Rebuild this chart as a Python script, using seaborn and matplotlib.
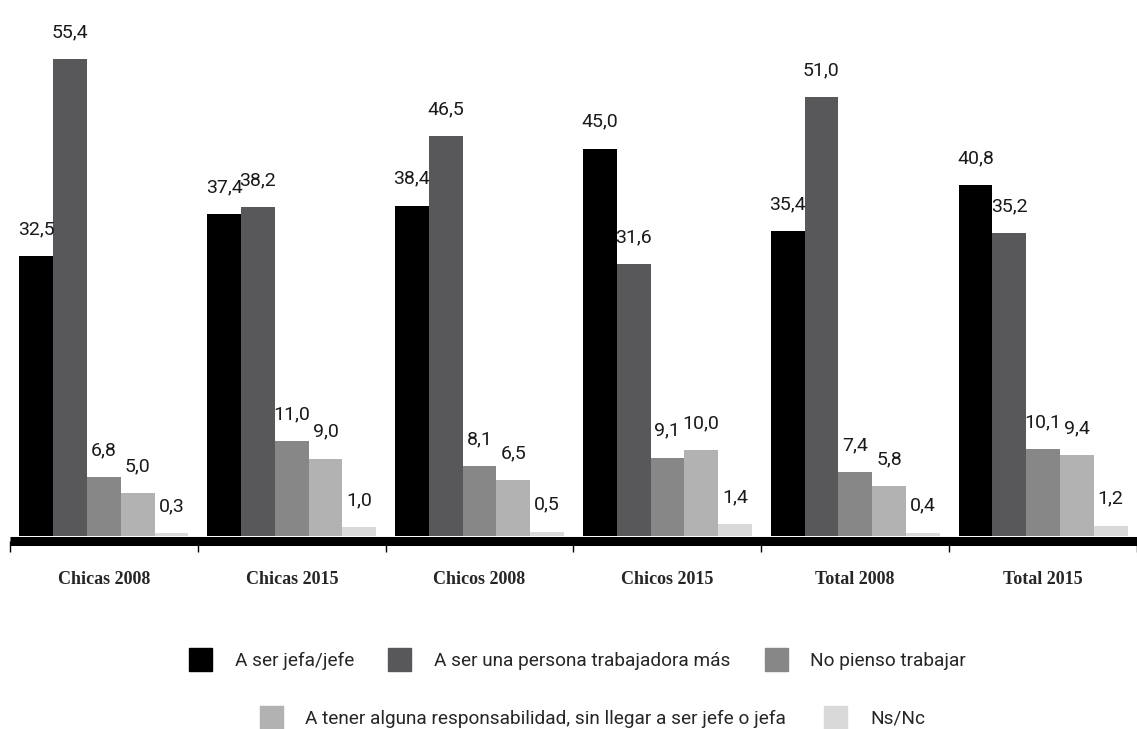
import pandas as pd
import matplotlib.pyplot as plt
import matplotlib.patches as mpatches
import seaborn as sns

# datos del grafico
grupos = ['Chicas 2008', 'Chicas 2015', 'Chicos 2008', 'Chicos 2015', 'Total 2008', 'Total 2015']
respuestas = ['A ser jefa/jefe',
              'A ser una persona trabajadora más',
              'No pienso trabajar',
              'A tener alguna responsabilidad, sin llegar a ser jefe o jefa',
              'Ns/Nc']
jefe = [32.5, 37.4, 38.4, 45.0, 35.4, 40.8]
trabajadora = [55.4, 38.2, 46.5, 31.6, 51.0, 35.2]
no_trabajar = [6.8, 11.0, 8.1, 9.1, 7.4, 10.1]
responsabilidad = [5.0, 9.0, 6.5, 10.0, 5.8, 9.4]
nsnc = [0.3, 1.0, 0.5, 1.4, 0.4, 1.2]

colores = ['#000000', '#58585a', '#878787', '#b2b2b2', '#d9d9d9']

series = [jefe, trabajadora, no_trabajar, responsabilidad, nsnc]
filas = []
for resp, vals in zip(respuestas, series):
    for g, v in zip(grupos, vals):
        filas.append({'grupo': g, 'respuesta': resp, 'valor': v})
dados = pd.DataFrame(filas)

sns.set_style('white')
plt.rcParams['font.family'] = ['Roboto', 'DejaVu Sans']

fig = plt.figure(figsize=(11.37, 7.29), dpi=100)
ax = fig.add_axes([10 / 1137, (729 - 536) / 729, 1127 / 1137, 536 / 729])

sns.barplot(data=dados, x='grupo', y='valor', hue='respuesta', order=grupos,
            hue_order=respuestas, palette=colores, width=0.9, saturation=1,
            legend=False, ax=ax, errorbar=None, linewidth=0)

# etiquetas de valor
for cont in ax.containers:
    for barra in cont:
        h = barra.get_height()
        ax.annotate(f'{h:.1f}'.replace('.', ','),
                    (barra.get_x() + barra.get_width() / 2, h),
                    xytext=(0, 13), textcoords='offset points',
                    ha='center', va='bottom', fontsize=14, color='#1a1a1a')

ax.set_ylim(0, 62.3)
ax.set_xlim(-0.5, 5.47)
ax.set_xlabel('')
ax.set_ylabel('')
ax.set_yticks([])
for s in ['top', 'right', 'left']:
    ax.spines[s].set_visible(False)
ax.spines['bottom'].set_linewidth(6.5)
ax.spines['bottom'].set_color('black')
ax.spines['bottom'].set_capstyle('butt')
ax.spines['bottom'].set_position(('outward', 3.3))

ax.set_xticks(range(len(grupos)))
ax.set_xticklabels(grupos, family='Liberation Serif', fontweight='bold', fontsize=13)
ax.set_xticks([i - 0.5 for i in range(len(grupos) + 1)], minor=True)
ax.tick_params(axis='x', which='major', bottom=True, length=0, pad=22)
ax.tick_params(axis='x', which='minor', bottom=True, length=8, width=1,
               color='black', direction='out')

# leyenda en dos filas
handles = [mpatches.Patch(color=c, label=r) for c, r in zip(colores, respuestas)]
fig.legend(handles=handles[:3], loc='center', bbox_to_anchor=(0.508, 0.095),
           ncol=3, frameon=False, fontsize=13.7, handlelength=1.2,
           handleheight=1.5, handletextpad=1.2, columnspacing=1.8,
           borderpad=0, borderaxespad=0)
fig.legend(handles=handles[3:], loc='center', bbox_to_anchor=(0.521, 0.016),
           ncol=2, frameon=False, fontsize=13.7, handlelength=1.2,
           handleheight=1.5, handletextpad=1.2, columnspacing=2.0,
           borderpad=0, borderaxespad=0)

plt.savefig('out.png', dpi=100)
